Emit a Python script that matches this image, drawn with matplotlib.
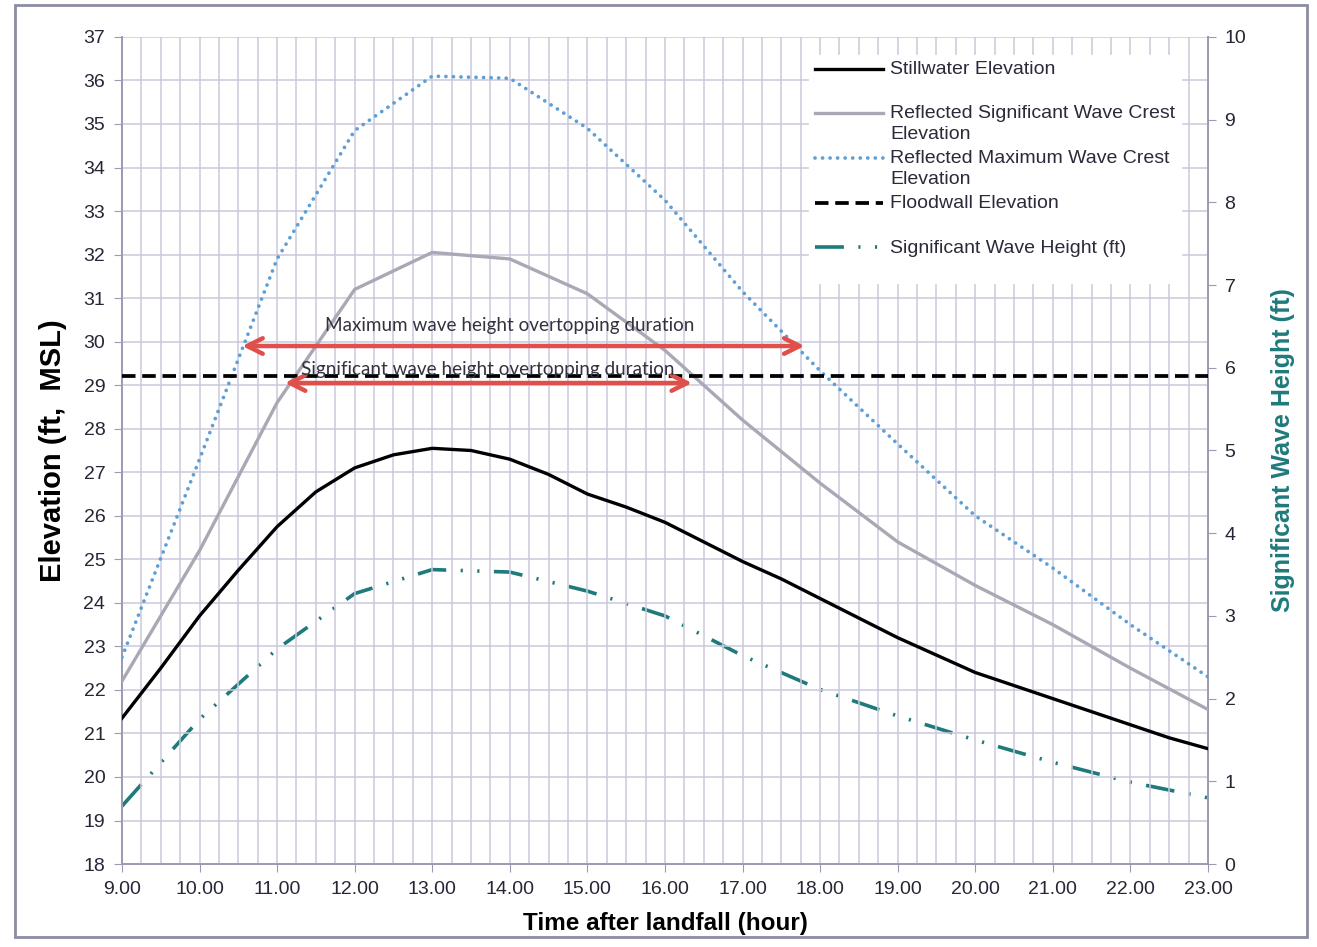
import matplotlib
matplotlib.use("Agg")
import matplotlib.pyplot as plt
from matplotlib.lines import Line2D
from matplotlib.legend_handler import HandlerLine2D
from matplotlib.patches import Rectangle

# hourly series (time after landfall, hours)
hours = [9, 10, 11, 12, 13, 14, 15, 16, 17, 18, 19, 20, 21, 22, 23]

# stillwater read at half-hour steps (smooth curve)
still_t = [9.0, 9.5, 10.0, 10.5, 11.0, 11.5, 12.0, 12.5, 13.0, 13.5, 14.0, 14.5,
           15.0, 15.5, 16.0, 16.5, 17.0, 17.5, 18.0, 18.5, 19.0, 19.5, 20.0,
           20.5, 21.0, 21.5, 22.0, 22.5, 23.0]
stillwater = [21.35, 22.5, 23.7, 24.75, 25.75, 26.55, 27.1, 27.4, 27.55, 27.5, 27.3, 26.95,
              26.5, 26.2, 25.85, 25.4, 24.95, 24.55, 24.1, 23.65, 23.2, 22.8, 22.4,
              22.1, 21.8, 21.5, 21.2, 20.9, 20.65]

sig_crest = [22.2, 25.2, 28.6, 31.2, 32.05, 31.9, 31.1, 29.8, 28.2, 26.75, 25.4, 24.4, 23.5, 22.5, 21.55]
max_crest = [22.75, 27.3, 31.9, 34.85, 36.1, 36.05, 34.9, 33.25, 31.15, 29.33, 27.65, 26.0, 24.8, 23.5, 22.3]
sig_height = [0.7, 1.75, 2.6, 3.27, 3.56, 3.53, 3.3, 3.0, 2.52, 2.11, 1.79, 1.5, 1.23, 0.99, 0.8]
floodwall_elev = 29.2

# overtopping duration arrows: (start hour, end hour, elevation)
max_span = (10.55, 17.8, 29.9)
sig_span = (11.1, 16.35, 29.05)

grid_c = "#cbc7dc"
axis_c = "#9c9ab2"
teal = "#1f7a7c"

plt.rcParams["font.family"] = ["Liberation Sans", "DejaVu Sans"]

fig = plt.figure(figsize=(13.17, 9.47), dpi=100)
ax = fig.add_axes([0.0926, 0.0876, 0.8246, 0.8734])
ax2 = ax.twinx()

ax.set_xlim(9, 23)
ax.set_ylim(18, 37)
ax2.set_ylim(0, 10)

ax.set_xticks(hours)
ax.set_xticklabels([f"{h:.2f}" for h in hours])
ax.set_xticks([9 + 0.25 * i for i in range(57)], minor=True)
ax.set_yticks(range(18, 38))
ax2.set_yticks(range(0, 11))

ax.grid(True, which="both", axis="x", color=grid_c, lw=1.1, zorder=0)
ax.grid(True, which="major", axis="y", color=grid_c, lw=1.1, zorder=0)
ax.tick_params(axis="x", which="minor", length=0)
ax.tick_params(axis="both", which="major", direction="out", length=6, color=axis_c,
               labelsize=14, labelcolor="#262636", pad=6)
ax2.tick_params(axis="y", direction="out", length=6, color=axis_c,
                labelsize=14, labelcolor="#262636", pad=6)

for a in (ax, ax2):
    a.spines["top"].set_visible(False)
    for s in ("left", "right", "bottom"):
        a.spines[s].set_color(axis_c)
        a.spines[s].set_linewidth(1.3)

l_still, = ax.plot(still_t, stillwater, color="black", lw=2.4, zorder=4,
                   label="Stillwater Elevation\n ")
l_sig, = ax.plot(hours, sig_crest, color="#a9a9b5", lw=2.4, zorder=4,
                 label="Reflected Significant Wave Crest\nElevation")
l_max, = ax.plot(hours, max_crest, color="#5e9fd6", lw=2.7, zorder=4,
                 linestyle=(0, (0.01, 2.0)), dash_capstyle="round",
                 label="Reflected Maximum Wave Crest\nElevation")
l_wall, = ax.plot([hours[0], hours[-1]], [floodwall_elev, floodwall_elev], color="black",
                  lw=2.7, zorder=4, linestyle=(0, (3.6, 1.8)),
                  label="Floodwall Elevation\n ")
l_hs, = ax2.plot(hours, sig_height, color=teal, lw=2.6, zorder=4,
                 linestyle=(0, (8, 4, 0.6, 4, 0.6, 4)),
                 label="Significant Wave Height (ft)\n ")

ax.set_zorder(ax2.get_zorder() + 1)
ax.patch.set_visible(False)

# red duration arrows
arrow_kw = dict(arrowstyle="<->", color="#e0504a", lw=3.2, mutation_scale=28,
                shrinkA=0, shrinkB=0)
ax.annotate("", xy=(max_span[0], max_span[2]), xytext=(max_span[1], max_span[2]),
            arrowprops=arrow_kw, zorder=5)
ax.annotate("", xy=(sig_span[0], sig_span[2]), xytext=(sig_span[1], sig_span[2]),
            arrowprops=arrow_kw, zorder=5)
ax.text(14.0, 30.38, "Maximum wave height overtopping duration", family="Lato",
        fontsize=13.6, color="#333340", ha="center", va="center", zorder=6)
ax.text(13.72, 29.35, "Significant wave height overtopping duration", family="Lato",
        fontsize=13.6, color="#333340", ha="center", va="center", zorder=6)

ax.set_xlabel("Time after landfall (hour)", fontsize=17.5, fontweight="bold", labelpad=10)
ax.set_ylabel("Elevation (ft,  MSL)", fontsize=21, fontweight="bold", labelpad=12)
ax2.set_ylabel("Significant Wave Height (ft)", fontsize=18, fontweight="bold",
               color=teal, labelpad=18)


class TopLine(HandlerLine2D):
    def create_artists(self, legend, orig_handle, xdescent, ydescent, width, height,
                       fontsize, trans):
        arts = super().create_artists(legend, orig_handle, xdescent, ydescent, width,
                                      height, fontsize, trans)
        for a in arts:
            a.set_ydata([y + 0.56 * fontsize for y in a.get_ydata()])
        return arts


leg = ax.legend(handles=[l_still, l_sig, l_max, l_wall, l_hs],
                loc="upper left", bbox_to_anchor=(0.624, 0.99), fontsize=14,
                handlelength=3.5, handletextpad=0.35, labelspacing=0.35,
                borderpad=0.3, frameon=True, fancybox=False, framealpha=1,
                handler_map={Line2D: TopLine()})
leg.get_frame().set_edgecolor("white")
leg.get_frame().set_facecolor("white")
leg.set_zorder(10)
for t in leg.get_texts():
    t.set_color("#2a2a3a")
    t.set_linespacing(1.3)

fig.patches.append(Rectangle((15 / 1317, 10 / 947), 1292 / 1317, 932 / 947,
                             transform=fig.transFigure, fill=False,
                             edgecolor="#8c8ca4", lw=2))

fig.savefig("out.png", dpi=100, facecolor="white")
